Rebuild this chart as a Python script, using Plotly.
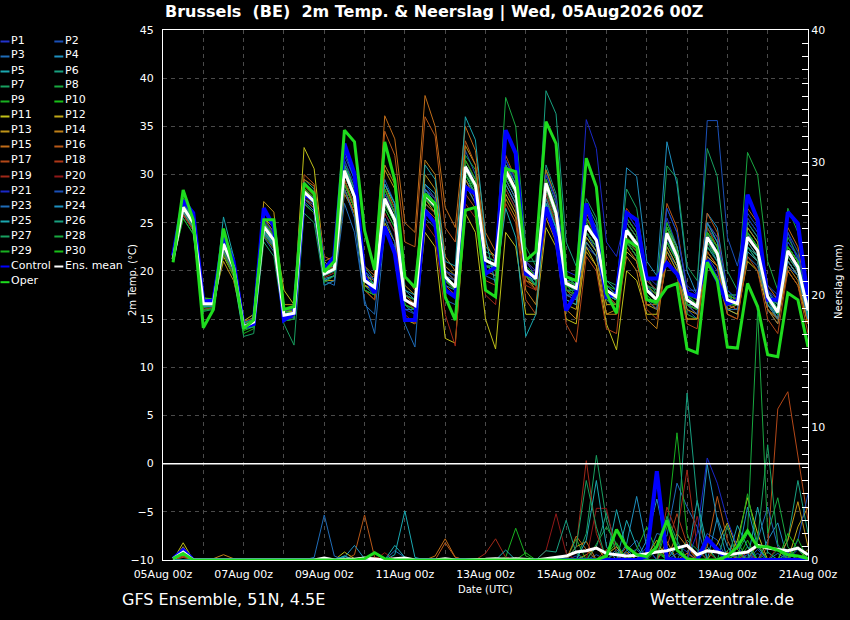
import pandas as pd
import plotly.graph_objects as go

# ---- data: GFS ensemble, Brussels, run 05Aug2026 00Z, 6-hourly from 05Aug 06z
times = pd.date_range("2026-08-05 06:00", periods=64, freq="6h")

member_names = ["P%d" % k for k in range(1, 31)]
member_colors = [
    "#2233cc", "#1a50b8", "#1f6cb8", "#1e90c0", "#1aa8b0", "#18a080", "#18a060", "#18a840", "#18b020", "#18c018",
    "#c0c018", "#c0a818", "#bf9418", "#c08018", "#c06c18", "#b85818", "#b44818", "#b03818", "#a02818", "#901818",
    "#1a28c8", "#1a50b8", "#1f6cb8", "#1e90c0", "#1aa8b0", "#18a080", "#18a060", "#18a840", "#18b020", "#18c018",
]

# 2m temperature (degC)
t_oper = [20.9, 28.4, 25.3, 14.1, 16.0, 24.4, 20.4, 14.0, 14.9, 25.3, 25.3, 16.0, 16.3, 29.1, 28.0, 19.9,
          21.0, 34.6, 33.4, 24.2, 20.1, 33.4, 29.4, 19.4, 18.3, 28.0, 27.0, 17.3, 14.9, 26.3, 26.6, 18.0,
          17.3, 30.6, 30.3, 21.1, 22.0, 35.5, 33.2, 19.4, 19.0, 31.7, 28.7, 17.7, 15.6, 23.2, 22.5, 17.0,
          16.8, 18.3, 18.7, 11.9, 11.5, 20.9, 19.0, 12.1, 12.0, 18.7, 16.3, 11.3, 11.1, 17.7, 17.0, 12.1]
t_control = [21.6, 27.3, 26.0, 16.8, 16.9, 23.4, 21.0, 14.2, 14.5, 26.5, 24.6, 14.9, 15.6, 28.0, 27.3, 20.1,
             21.5, 33.2, 30.1, 19.4, 17.7, 24.6, 21.8, 14.9, 14.9, 26.3, 24.9, 18.0, 17.3, 28.7, 28.0, 19.7,
             20.4, 34.6, 32.2, 19.7, 19.4, 26.6, 23.5, 15.9, 17.7, 27.0, 23.5, 17.3, 17.6, 26.0, 25.3, 19.2,
             19.2, 20.8, 19.7, 17.7, 17.3, 21.1, 19.0, 16.6, 16.9, 27.9, 25.3, 17.0, 17.0, 26.1, 24.9, 17.0]
t_mean = [21.2, 26.6, 25.0, 16.6, 16.6, 22.8, 20.4, 14.2, 14.7, 24.6, 23.2, 15.4, 15.6, 28.2, 27.2, 19.7,
          20.2, 30.4, 27.7, 19.0, 18.3, 27.5, 25.3, 17.0, 16.4, 27.9, 26.8, 19.4, 18.3, 30.8, 28.9, 21.1,
          20.6, 30.4, 28.4, 20.1, 19.2, 29.1, 26.0, 18.7, 18.2, 24.7, 23.2, 18.0, 17.3, 24.2, 22.8, 18.0,
          17.0, 23.9, 21.5, 17.0, 16.3, 23.5, 21.8, 17.0, 16.6, 23.5, 22.1, 17.3, 15.7, 22.1, 20.4, 15.9]

t_p01 = [21.3, 27.5, 26.0, 17.0, 16.8, 23.5, 21.0, 14.5, 14.8, 25.0, 23.5, 15.0, 15.2, 29.0, 28.0, 20.5,
         21.0, 32.0, 29.5, 20.0, 19.0, 26.0, 24.0, 16.0, 15.5, 26.5, 25.0, 18.5, 17.5, 29.5, 27.5, 20.0,
         19.5, 31.5, 29.0, 21.0, 19.5, 27.0, 24.5, 17.5, 17.0, 22.5, 21.5, 17.0, 16.5, 26.0, 24.5, 19.0,
         18.0, 25.5, 22.5, 16.5, 15.5, 21.5, 20.0, 16.0, 15.5, 25.0, 23.5, 18.0, 17.0, 24.0, 21.0, 16.0]
t_p02 = [21.0, 26.0, 25.5, 16.8, 16.5, 22.5, 20.0, 14.0, 14.5, 24.0, 22.5, 15.5, 16.0, 27.5, 26.5, 19.0,
         19.5, 29.0, 26.5, 18.0, 17.5, 29.5, 27.0, 17.5, 17.0, 29.0, 27.5, 20.0, 19.0, 32.5, 30.0, 22.0,
         21.5, 29.0, 27.0, 19.5, 18.5, 30.5, 27.5, 19.0, 19.0, 26.5, 24.5, 19.0, 18.0, 22.0, 21.0, 17.0,
         16.5, 22.0, 20.5, 16.0, 15.0, 24.5, 23.0, 17.5, 17.5, 22.0, 21.0, 16.5, 15.0, 20.5, 19.5, 15.0]
t_p03 = [21.4, 27.0, 25.2, 16.4, 16.4, 23.0, 20.8, 14.6, 15.0, 23.5, 22.0, 15.2, 15.8, 27.0, 26.0, 19.0,
         18.5, 27.0, 24.0, 17.0, 13.5, 24.0, 22.5, 16.0, 16.0, 28.5, 27.0, 19.5, 19.0, 31.0, 29.5, 21.5,
         20.0, 28.5, 26.5, 19.5, 19.0, 30.0, 27.0, 19.5, 18.5, 24.0, 22.0, 17.5, 17.0, 23.5, 22.0, 18.5,
         17.5, 24.5, 22.0, 17.5, 16.0, 23.0, 21.0, 16.5, 16.0, 21.5, 20.5, 16.0, 14.5, 21.0, 19.5, 15.5]
t_p04 = [21.1, 26.2, 24.6, 16.2, 16.7, 23.2, 20.6, 14.4, 14.6, 24.2, 22.8, 15.6, 15.4, 28.5, 27.5, 20.0,
         20.5, 31.0, 28.0, 19.5, 18.5, 28.0, 26.0, 17.5, 17.0, 27.0, 26.0, 18.5, 18.0, 29.5, 28.0, 20.5,
         20.0, 30.0, 28.0, 20.5, 19.5, 28.5, 25.5, 18.0, 17.5, 25.5, 24.0, 18.5, 17.5, 25.0, 23.5, 18.5,
         17.5, 22.5, 20.5, 16.5, 16.5, 26.0, 24.5, 18.0, 17.0, 22.5, 21.0, 17.0, 15.0, 23.0, 21.5, 16.5]
t_p05 = [21.0, 25.8, 24.2, 16.0, 16.2, 25.6, 21.5, 14.0, 14.2, 23.8, 22.6, 14.8, 15.0, 27.5, 26.8, 19.2,
         19.5, 30.0, 27.5, 18.5, 17.5, 28.5, 26.0, 16.5, 15.5, 29.0, 28.0, 20.0, 19.0, 30.0, 28.0, 20.5,
         20.5, 31.0, 29.0, 20.0, 18.5, 28.0, 25.0, 18.0, 18.0, 24.0, 22.5, 17.5, 16.5, 23.0, 21.5, 17.5,
         16.5, 23.0, 21.0, 16.5, 16.5, 24.0, 22.0, 17.5, 17.0, 24.5, 23.0, 18.0, 16.0, 22.5, 21.0, 16.5]
t_p06 = [21.3, 26.8, 25.3, 16.9, 16.9, 22.0, 19.8, 14.0, 14.4, 25.5, 24.0, 15.8, 16.2, 29.5, 28.5, 20.5,
         21.0, 33.0, 30.0, 20.5, 19.0, 26.5, 24.5, 16.5, 16.0, 27.5, 26.5, 19.0, 18.5, 31.5, 29.5, 21.5,
         21.0, 29.5, 27.5, 19.5, 19.5, 31.0, 28.0, 19.5, 18.5, 23.5, 22.0, 17.5, 17.0, 24.5, 23.0, 18.5,
         17.0, 25.0, 22.5, 17.5, 16.5, 22.5, 21.0, 16.5, 16.0, 24.0, 22.5, 17.5, 16.0, 21.5, 20.0, 15.5]
t_p07 = [21.0, 25.5, 23.8, 15.8, 16.0, 22.0, 19.5, 13.2, 13.5, 23.0, 21.5, 14.5, 12.3, 26.0, 25.0, 18.5,
         19.0, 28.5, 26.0, 18.0, 17.5, 27.0, 25.0, 17.5, 17.0, 28.0, 27.0, 19.5, 18.5, 30.0, 28.0, 20.5,
         20.5, 31.5, 29.5, 20.5, 19.5, 28.5, 25.5, 18.5, 18.5, 27.5, 25.5, 19.0, 18.5, 28.5, 26.5, 19.5,
         17.5, 24.0, 21.5, 16.5, 16.0, 23.0, 21.5, 16.5, 16.5, 22.5, 21.0, 16.5, 15.5, 21.0, 19.5, 15.0]
t_p08 = [21.1, 26.4, 24.8, 16.5, 16.6, 23.0, 20.6, 14.3, 14.8, 24.8, 23.4, 15.6, 15.8, 28.0, 27.0, 19.5,
         20.0, 30.5, 28.0, 19.5, 18.5, 28.5, 26.5, 17.5, 16.5, 28.5, 27.5, 20.0, 19.5, 32.0, 30.5, 22.0,
         21.5, 38.0, 35.0, 22.5, 20.5, 30.5, 27.5, 19.5, 18.5, 25.5, 23.5, 18.0, 17.0, 24.5, 23.0, 18.0,
         17.0, 22.0, 20.0, 15.5, 15.0, 22.5, 21.5, 17.0, 17.0, 25.5, 24.0, 18.0, 16.5, 23.5, 21.5, 16.5]
t_p09 = [21.2, 27.2, 25.5, 16.8, 16.8, 22.3, 19.8, 13.8, 14.2, 24.0, 22.6, 15.0, 15.5, 28.8, 27.8, 20.0,
         20.5, 29.5, 27.0, 18.5, 18.0, 27.0, 25.0, 17.0, 16.5, 28.0, 27.0, 19.5, 18.5, 30.5, 28.5, 21.0,
         20.5, 29.0, 27.0, 19.5, 18.5, 29.5, 26.5, 19.0, 18.5, 25.0, 23.5, 18.5, 17.5, 23.5, 22.5, 18.0,
         17.0, 25.0, 22.5, 17.5, 17.0, 24.5, 22.5, 17.5, 17.0, 24.0, 22.5, 17.5, 16.0, 22.0, 20.0, 15.5]
t_p10 = [20.9, 26.0, 24.5, 16.2, 16.3, 22.5, 20.2, 14.0, 14.5, 24.5, 23.0, 15.3, 15.6, 28.0, 27.0, 19.8,
         20.0, 31.5, 28.5, 19.5, 18.5, 26.5, 24.5, 16.5, 16.0, 27.0, 26.0, 19.0, 18.0, 30.0, 28.5, 21.0,
         20.5, 30.5, 28.5, 20.5, 19.5, 27.5, 25.0, 18.5, 17.5, 24.0, 22.5, 17.5, 17.0, 23.0, 22.0, 17.5,
         16.5, 23.0, 21.0, 16.5, 16.0, 25.0, 23.0, 17.5, 16.5, 22.0, 21.0, 16.5, 15.0, 21.5, 20.0, 15.5]
t_p11 = [21.5, 27.0, 25.5, 17.2, 17.0, 23.0, 20.8, 14.8, 15.5, 25.5, 24.5, 18.0, 16.5, 32.8, 30.6, 21.0,
         20.0, 29.5, 26.5, 18.0, 17.0, 25.0, 23.0, 15.0, 14.5, 24.0, 22.5, 13.0, 12.5, 26.0, 24.0, 15.0,
         11.9, 24.0, 22.5, 15.5, 15.5, 24.5, 22.5, 15.0, 14.5, 22.5, 20.5, 14.5, 11.8, 20.0, 19.0, 15.5,
         15.5, 21.0, 19.5, 15.0, 15.0, 22.0, 20.5, 16.0, 15.5, 21.0, 20.0, 16.0, 15.0, 20.0, 18.5, 14.5]
t_p12 = [21.2, 26.5, 25.2, 16.8, 16.8, 21.5, 19.5, 14.0, 14.8, 25.0, 23.6, 15.8, 15.8, 29.0, 28.2, 20.4,
         20.5, 29.0, 26.5, 18.5, 18.0, 29.0, 26.5, 17.5, 16.5, 27.5, 26.0, 19.0, 18.0, 29.0, 27.0, 20.5,
         20.0, 28.0, 26.0, 19.0, 18.5, 26.0, 23.5, 16.5, 16.0, 23.5, 22.0, 16.5, 16.5, 22.0, 21.0, 16.5,
         16.0, 24.5, 22.0, 16.5, 16.0, 21.5, 20.5, 16.0, 16.5, 23.0, 21.5, 16.5, 15.0, 21.0, 19.5, 15.0]
t_p13 = [21.3, 26.9, 25.6, 17.0, 16.9, 21.0, 19.0, 14.6, 15.2, 27.2, 26.1, 16.5, 16.5, 27.0, 26.0, 19.0,
         19.0, 28.0, 26.0, 18.5, 18.0, 30.5, 28.5, 18.5, 17.5, 30.0, 28.5, 20.5, 19.5, 33.0, 31.0, 22.5,
         21.5, 29.5, 27.5, 19.5, 18.0, 27.5, 24.5, 17.0, 16.5, 22.0, 20.5, 15.5, 16.0, 24.0, 22.5, 17.0,
         16.0, 22.5, 20.5, 16.0, 15.5, 24.0, 22.5, 16.5, 16.0, 24.5, 23.0, 17.0, 15.5, 22.5, 21.0, 16.0]
t_p14 = [21.0, 25.8, 24.4, 16.4, 16.4, 22.0, 20.0, 14.2, 15.0, 26.0, 25.0, 16.0, 16.0, 28.5, 27.5, 20.0,
         20.5, 28.5, 26.0, 19.5, 19.0, 31.0, 29.0, 19.5, 18.0, 31.5, 30.0, 21.5, 20.0, 29.5, 27.5, 20.0,
         19.5, 27.5, 25.5, 18.0, 16.5, 25.5, 23.0, 16.0, 15.0, 23.0, 21.5, 15.5, 15.5, 21.5, 20.0, 15.0,
         14.0, 22.0, 20.0, 15.0, 15.0, 20.5, 19.5, 15.5, 15.0, 22.0, 21.0, 16.0, 14.5, 20.5, 19.0, 14.5]
t_p15 = [21.4, 27.3, 25.8, 17.1, 17.0, 23.5, 21.2, 14.8, 15.0, 25.5, 24.0, 15.8, 16.0, 29.5, 28.8, 21.0,
         21.5, 30.5, 28.0, 20.5, 19.5, 36.1, 33.7, 25.0, 24.0, 38.2, 35.0, 26.6, 24.5, 35.0, 32.5, 24.0,
         22.0, 31.0, 28.5, 20.0, 19.0, 30.5, 27.5, 19.0, 18.0, 24.0, 22.5, 17.5, 16.5, 22.5, 21.0, 16.5,
         16.5, 24.5, 22.5, 17.0, 16.5, 25.0, 23.5, 17.5, 17.0, 26.5, 25.0, 18.5, 17.0, 24.5, 22.5, 16.5]
t_p16 = [21.2, 26.3, 24.9, 16.5, 16.5, 23.3, 21.0, 14.8, 15.0, 24.0, 22.6, 15.2, 15.5, 30.0, 29.0, 21.5,
         21.0, 28.5, 26.0, 19.0, 19.5, 34.5, 32.0, 23.0, 22.5, 36.0, 34.0, 24.5, 23.0, 33.5, 31.0, 23.0,
         21.0, 32.0, 29.5, 21.0, 20.0, 28.5, 25.5, 18.0, 17.0, 26.0, 24.0, 18.0, 17.0, 25.0, 23.5, 18.5,
         17.5, 27.0, 24.5, 18.0, 17.0, 26.0, 24.0, 17.5, 17.0, 24.0, 22.0, 16.0, 15.0, 21.0, 19.5, 14.5]
t_p17 = [21.1, 26.0, 24.6, 16.3, 16.4, 22.6, 20.4, 14.3, 14.6, 24.8, 23.5, 15.6, 15.5, 27.5, 26.5, 19.5,
         20.0, 30.0, 27.5, 19.0, 18.0, 28.0, 26.0, 17.5, 16.5, 26.5, 25.5, 18.5, 17.5, 28.0, 26.5, 19.0,
         18.5, 27.0, 25.0, 17.0, 15.5, 26.0, 23.5, 14.5, 12.6, 21.5, 20.0, 14.0, 13.5, 23.0, 21.5, 16.0,
         15.0, 21.5, 19.5, 14.5, 14.0, 22.0, 20.5, 15.5, 15.0, 21.5, 20.0, 15.0, 13.5, 20.0, 18.5, 13.5]
t_p18 = [21.3, 26.2, 24.7, 16.6, 16.6, 21.8, 19.6, 14.4, 14.6, 23.6, 22.3, 15.2, 15.5, 28.5, 27.5, 20.0,
         20.5, 31.0, 28.5, 19.5, 18.5, 27.0, 25.0, 17.0, 16.0, 27.0, 26.0, 19.0, 18.0, 31.0, 29.0, 21.0,
         20.5, 29.0, 27.0, 19.0, 18.0, 28.5, 25.5, 18.0, 17.5, 24.0, 22.5, 17.5, 17.0, 26.5, 25.0, 19.0,
         18.0, 23.0, 21.0, 16.5, 16.0, 24.5, 22.5, 17.0, 16.5, 23.5, 22.0, 17.0, 15.5, 22.0, 20.0, 15.5]
t_p19 = [21.0, 25.8, 24.2, 16.0, 16.2, 22.4, 20.0, 14.0, 14.4, 24.4, 23.0, 15.2, 15.3, 27.8, 26.8, 19.3,
         19.8, 29.5, 26.8, 18.0, 17.0, 26.0, 24.0, 15.5, 14.5, 25.0, 23.5, 15.5, 12.2, 27.0, 25.5, 17.5,
         16.5, 28.5, 26.5, 18.5, 18.0, 28.0, 25.0, 17.5, 17.0, 25.5, 23.5, 17.5, 16.5, 23.5, 22.0, 17.0,
         16.0, 24.5, 22.0, 16.5, 15.5, 23.0, 21.5, 16.5, 16.0, 23.5, 22.0, 17.0, 15.5, 21.5, 20.0, 15.5]
t_p20 = [21.2, 26.7, 25.1, 16.7, 16.7, 23.4, 21.0, 14.5, 14.9, 25.2, 23.8, 15.8, 16.0, 28.8, 27.8, 20.2,
         20.5, 30.0, 27.5, 19.0, 18.5, 28.5, 26.5, 17.5, 17.0, 28.5, 27.5, 20.0, 19.0, 31.5, 29.5, 21.5,
         21.0, 30.0, 28.0, 20.0, 19.5, 29.5, 26.5, 19.0, 18.5, 24.5, 23.0, 18.0, 17.5, 25.5, 24.0, 18.5,
         17.5, 24.0, 21.5, 17.0, 16.5, 23.0, 21.5, 17.0, 17.0, 23.0, 21.5, 17.0, 16.0, 22.5, 20.5, 16.0]
t_p21 = [21.4, 27.4, 25.9, 17.1, 17.0, 23.7, 21.3, 14.6, 15.1, 25.3, 23.9, 15.9, 16.0, 29.0, 28.0, 20.4,
         21.0, 31.5, 29.0, 20.0, 19.0, 28.0, 26.0, 17.5, 17.0, 28.5, 27.5, 20.0, 19.5, 31.0, 29.0, 21.5,
         21.0, 31.5, 29.5, 21.0, 20.0, 30.0, 27.5, 20.0, 19.5, 35.7, 32.7, 23.0, 21.5, 26.0, 24.5, 19.5,
         18.5, 26.5, 24.0, 18.5, 17.5, 25.0, 23.5, 18.0, 17.0, 25.5, 24.0, 18.0, 16.5, 23.0, 21.5, 16.5]
t_p22 = [21.1, 26.4, 24.9, 16.5, 16.5, 22.7, 20.3, 14.1, 14.6, 24.6, 23.2, 15.4, 15.6, 28.0, 27.0, 19.6,
         20.0, 30.0, 27.5, 19.0, 18.0, 27.5, 25.5, 17.0, 16.5, 28.0, 27.0, 19.5, 18.5, 30.5, 28.5, 21.0,
         20.5, 30.0, 28.0, 20.0, 19.0, 29.0, 26.0, 19.0, 18.5, 26.5, 24.5, 18.5, 17.5, 25.5, 24.0, 18.5,
         17.0, 26.5, 24.0, 18.0, 18.0, 35.6, 35.6, 23.5, 20.5, 26.0, 24.5, 18.5, 17.5, 24.0, 22.0, 16.5]
t_p23 = [21.3, 26.9, 25.4, 16.9, 16.8, 22.1, 19.9, 14.2, 14.5, 23.9, 22.5, 15.0, 15.0, 27.0, 26.0, 18.5,
         19.0, 28.5, 25.5, 16.5, 15.5, 25.5, 23.0, 14.5, 12.1, 25.5, 24.5, 17.0, 16.5, 29.0, 27.0, 19.5,
         19.0, 29.5, 27.5, 19.5, 18.5, 27.5, 24.5, 17.5, 17.0, 24.0, 22.5, 17.0, 16.0, 23.0, 21.5, 17.0,
         16.0, 23.5, 21.0, 16.5, 15.5, 23.5, 21.5, 16.0, 16.0, 24.0, 22.0, 16.5, 15.0, 22.0, 20.0, 15.0]
t_p24 = [21.0, 26.1, 24.5, 16.3, 16.3, 23.9, 21.5, 14.6, 14.9, 24.9, 23.5, 15.5, 15.7, 27.2, 26.2, 19.0,
         19.5, 31.0, 28.5, 19.5, 18.0, 29.0, 27.0, 18.0, 17.0, 28.5, 27.0, 19.0, 18.5, 30.0, 28.0, 20.5,
         20.0, 29.0, 27.0, 19.5, 18.5, 27.0, 24.5, 17.5, 17.5, 23.0, 21.5, 17.5, 17.0, 30.7, 29.8, 21.0,
         19.5, 33.4, 29.0, 20.0, 17.5, 25.0, 23.0, 17.5, 16.5, 22.0, 21.0, 16.5, 15.5, 21.0, 19.5, 15.0]
t_p25 = [21.2, 26.6, 25.0, 16.6, 16.6, 23.3, 20.9, 14.2, 14.4, 24.1, 22.7, 15.1, 15.4, 29.2, 28.2, 20.4,
         20.5, 32.5, 29.5, 20.0, 18.5, 29.0, 27.0, 18.0, 17.5, 31.0, 29.5, 21.0, 20.5, 36.0, 33.6, 23.5,
         18.5, 26.5, 23.5, 13.2, 15.5, 27.0, 24.5, 17.0, 16.5, 24.5, 23.0, 17.5, 17.0, 24.5, 23.0, 18.0,
         17.0, 24.5, 22.5, 17.0, 16.5, 23.0, 21.5, 16.5, 16.5, 23.0, 21.5, 17.0, 15.5, 22.0, 20.5, 15.5]
t_p26 = [21.3, 27.1, 25.4, 16.9, 16.9, 22.9, 20.5, 14.0, 14.2, 24.2, 22.9, 15.3, 15.5, 28.0, 27.0, 19.5,
         20.0, 31.0, 28.5, 19.5, 18.0, 27.0, 25.0, 17.0, 16.5, 28.0, 27.0, 19.5, 18.5, 31.0, 29.0, 21.0,
         20.5, 31.0, 29.0, 21.0, 21.0, 38.7, 36.3, 23.0, 20.5, 27.0, 25.0, 19.0, 18.0, 24.0, 22.5, 18.0,
         17.0, 23.0, 21.0, 16.5, 16.0, 22.5, 21.0, 16.5, 16.5, 22.5, 21.5, 17.0, 15.5, 21.5, 20.0, 15.5]
t_p27 = [21.1, 26.3, 24.7, 16.4, 16.4, 22.4, 20.1, 14.1, 14.7, 24.7, 23.3, 15.5, 15.6, 28.3, 27.3, 19.8,
         20.3, 30.0, 27.5, 19.0, 18.0, 27.5, 25.5, 17.0, 16.5, 27.5, 26.5, 19.0, 18.0, 30.5, 28.5, 20.5,
         20.0, 30.0, 28.0, 20.0, 19.0, 29.0, 26.0, 18.5, 18.0, 24.5, 23.0, 18.0, 17.5, 25.0, 23.5, 18.5,
         18.0, 30.9, 29.6, 20.5, 19.0, 32.7, 29.8, 20.0, 18.0, 25.0, 23.5, 17.5, 16.5, 22.5, 21.0, 16.0]
t_p28 = [21.2, 26.8, 25.2, 16.7, 16.7, 22.6, 20.2, 14.3, 14.8, 24.5, 23.1, 15.4, 15.7, 28.4, 27.4, 19.9,
         20.3, 30.5, 28.0, 19.0, 18.5, 27.5, 25.5, 17.0, 16.5, 28.0, 27.0, 19.5, 18.5, 30.5, 28.5, 21.0,
         20.5, 30.5, 28.5, 20.0, 19.0, 28.5, 25.5, 18.5, 18.0, 25.0, 23.5, 18.0, 17.5, 24.5, 23.0, 18.0,
         17.0, 24.0, 22.0, 17.0, 16.5, 24.0, 22.5, 17.5, 17.5, 32.3, 30.0, 21.0, 18.0, 26.5, 24.0, 17.0]
t_p29 = [21.0, 25.4, 23.9, 15.9, 16.1, 21.8, 19.4, 13.5, 14.0, 23.7, 22.4, 14.8, 15.0, 27.0, 26.0, 18.8,
         19.5, 29.0, 26.5, 18.0, 17.5, 27.0, 25.0, 16.5, 16.0, 27.5, 26.5, 19.0, 18.0, 30.0, 28.0, 20.5,
         20.0, 30.0, 28.0, 19.5, 18.5, 29.0, 26.0, 18.0, 17.5, 24.0, 22.5, 17.0, 16.5, 23.0, 21.5, 17.0,
         16.5, 23.0, 21.0, 16.5, 16.0, 23.0, 21.5, 16.5, 16.5, 23.5, 22.0, 17.0, 15.5, 22.5, 21.0, 16.0]
t_p30 = [21.4, 27.6, 26.0, 17.2, 17.1, 23.6, 21.1, 14.5, 15.0, 25.1, 23.7, 15.7, 16.0, 28.6, 27.6, 20.2,
         20.8, 30.5, 28.0, 19.5, 18.5, 28.5, 26.0, 17.5, 17.0, 28.0, 27.0, 19.5, 18.5, 31.5, 29.5, 21.5,
         21.0, 30.5, 28.5, 20.5, 19.5, 29.5, 26.5, 19.0, 18.5, 25.5, 24.0, 18.5, 18.0, 25.5, 24.0, 18.5,
         17.5, 24.5, 22.0, 17.5, 16.5, 24.0, 22.5, 17.5, 17.0, 24.0, 22.5, 17.5, 16.0, 22.5, 21.0, 16.0]

# 6-hourly precipitation (mm)
pr_oper = [0.1, 0.5, 0, 0, 0, 0, 0, 0, 0, 0, 0, 0, 0, 0, 0, 0,
           0, 0, 0, 0.1, 0.55, 0.1, 0, 0, 0, 0, 0, 0, 0, 0, 0, 0,
           0, 0, 0, 0, 0, 0, 0, 0, 0, 0, 0, 0.3, 2.3, 1.0, 0.4, 0.25,
           1.0, 3.0, 0.75, 0.1, 0, 0, 0, 0.3, 1.0, 2.2, 1.0, 1.0, 0.75, 0.4, 0.3, 0.1]
pr_control = [0.1, 0.75, 0, 0, 0, 0, 0, 0, 0, 0, 0, 0, 0, 0, 0, 0,
              0, 0, 0, 0, 0, 0, 0, 0, 0, 0, 0, 0, 0, 0, 0, 0,
              0, 0, 0, 0, 0, 0, 0, 0, 0, 0, 0, 0, 0, 0, 0, 0.3,
              6.7, 0.1, 0, 0, 0, 1.6, 0.75, 0, 0, 0, 0, 0, 0, 0, 0, 0]
pr_mean = [0.1, 0.6, 0, 0, 0, 0.02, 0, 0, 0, 0, 0, 0, 0, 0, 0, 0.15,
           0, 0.05, 0.05, 0.15, 0.05, 0, 0.1, 0.15, 0, 0, 0, 0.1, 0, 0, 0, 0.05,
           0.1, 0.05, 0.1, 0.05, 0, 0.1, 0.2, 0.3, 0.6, 0.7, 0.9, 0.5, 0.4, 0.3, 0.35, 0.5,
           0.6, 0.7, 0.9, 1.1, 0.4, 0.7, 0.6, 0.4, 0.5, 0.6, 1.1, 0.9, 0.8, 0.7, 0.9, 0.4]

pr_p01 = [0.1, 0.8, 0, 0, 0, 0, 0, 0, 0, 0, 0, 0, 0, 0, 0, 0,
          0, 0, 0, 0, 0, 0, 0, 0, 0, 0, 0, 0, 0, 0, 0, 0,
          0, 0, 0, 0, 0, 0, 0, 0, 0.3, 0, 0, 0, 0, 0.5, 0.8, 0,
          0, 0, 1.2, 0.6, 0, 0, 0, 0, 0, 0.4, 0, 0, 0, 0.6, 0, 0]
pr_p02 = [0.1, 0.6, 0, 0, 0, 0, 0, 0, 0, 0, 0, 0, 0, 0, 0, 0,
          0, 0, 0, 0, 0, 0, 0, 0, 0, 0, 0, 0, 0, 0, 0, 0,
          0, 0, 0, 0, 0, 0, 0, 0, 0, 0, 0.4, 0, 0, 0, 0, 0,
          0, 1.0, 0, 0, 0, 2.0, 1.5, 0, 0, 0, 0.5, 0, 0, 0, 0.8, 0]
pr_p03 = [0, 0.4, 0, 0, 0, 0, 0, 0, 0, 0, 0, 0, 0, 0, 0, 0,
          0, 0, 0, 0, 0, 0, 0.7, 0.2, 0, 0, 0, 0, 0, 0, 0, 0,
          0, 0, 0, 0, 0, 0, 0, 0, 0, 0, 0, 0, 0.8, 0, 0, 0,
          2.0, 1.8, 5.8, 4.0, 2.5, 0, 0, 0, 0, 0, 0, 0, 0.5, 0, 0, 0]
pr_p04 = [0, 0.3, 0, 0, 0, 0, 0, 0, 0, 0, 0, 0, 0, 0, 0, 0,
          0, 0.3, 0, 0, 0, 0, 0, 0, 0, 0, 0, 0, 0, 0, 0, 0,
          0, 0, 0, 0, 0, 0, 0, 0, 0, 0, 0, 0, 0, 1.2, 4.8, 1.0,
          0, 0, 0, 0, 0, 0, 3.2, 1.0, 0, 0, 0, 1.5, 2.8, 0, 0, 0]
pr_p05 = [0, 0.4, 0, 0, 0, 0, 0, 0, 0, 0, 0, 0, 0, 0, 0, 0,
          0, 0, 0, 0, 0, 0, 0.4, 3.7, 0.2, 0, 0, 0, 0, 0, 0, 0,
          0, 0, 0, 0, 0, 0, 0, 0, 0, 0, 0, 0, 3.8, 0.8, 0, 0,
          0, 0, 0, 0, 4.5, 1.0, 0, 0, 0, 0, 4.0, 0.6, 0, 0, 0, 0]
pr_p06 = [0, 0.5, 0, 0, 0, 0, 0, 0, 0, 0, 0, 0, 0, 0, 0, 0,
          0, 0, 0, 0, 0, 0, 0, 0, 0, 0, 0, 0, 0, 0, 0, 0,
          0, 0, 0, 0, 0, 0, 0, 0, 0, 0, 1.0, 3.5, 1.0, 0, 0, 0,
          0, 0, 0, 0, 0, 0, 0, 0, 0.5, 0, 0, 0, 0, 1.5, 6.0, 2.0]
pr_p07 = [0, 0.7, 0, 0, 0, 0, 0, 0, 0, 0, 0, 0, 0, 0, 0, 0,
          0, 0, 0, 0, 0, 0, 0, 0, 0, 0, 0, 0, 0, 0, 0, 0,
          0, 0, 0, 0, 0, 0, 0, 0, 0, 2.0, 7.9, 3.0, 0.5, 0, 0, 0,
          0, 0, 0, 1.5, 0.8, 0, 0, 0, 0, 0, 0, 0.6, 0, 0, 0, 0]
pr_p08 = [0, 0.6, 0, 0, 0, 0, 0, 0, 0, 0, 0, 0, 0, 0, 0, 0,
          0, 0, 0, 0, 0, 0, 0, 0, 0, 0, 0, 0, 0, 0, 0, 0,
          0, 0, 0, 0, 0, 0, 0, 0, 0, 0, 1.2, 2.5, 1.2, 0, 0, 0,
          0, 0, 0, 0, 0, 0, 0, 0.7, 1.4, 0, 0, 0, 0.8, 0, 0, 0]
pr_p09 = [0, 0.7, 0, 0, 0, 0, 0, 0, 0, 0, 0, 0, 0, 0, 0, 0,
          0, 0, 0, 0, 0, 0, 0, 0, 0, 0, 0, 0, 0, 0, 0, 0,
          0, 0.2, 2.4, 0.3, 0, 0, 0, 0, 1.6, 0, 0, 0, 0, 0, 0, 0,
          0, 2.5, 9.6, 2.0, 0, 0, 0, 0, 0, 1.0, 0, 0, 0, 0, 0, 0]
pr_p10 = [0, 0.5, 0, 0, 0, 0, 0, 0, 0, 0, 0, 0, 0, 0, 0, 0,
          0, 0, 0, 0, 0, 0, 0, 0, 0, 0, 0, 0, 0, 0, 0, 0,
          0, 0, 0, 0.55, 0, 0, 0, 0, 0, 0, 0, 0, 0, 0, 0, 0.5,
          1.0, 0, 0, 0, 0, 0.8, 0, 0, 0.6, 0, 0, 0, 0, 0, 1.0, 0]
pr_p11 = [0, 1.3, 0, 0, 0, 0, 0, 0, 0, 0, 0, 0, 0, 0, 0, 0,
          0, 0.6, 0.1, 0, 0, 0, 0, 0, 0, 0, 0, 0, 0, 0, 0, 0,
          0, 0, 0, 0, 0, 0, 0, 0, 0, 0, 0, 0.4, 1.0, 0, 0, 0,
          0, 0, 0, 0, 0, 0, 0, 0, 1.5, 4.7, 2.0, 0, 0, 0, 0, 0.8]
pr_p12 = [0, 1.0, 0, 0, 0, 0, 0, 0, 0, 0, 0, 0, 0, 0, 0, 0,
          0, 0, 0, 0, 0, 0, 0, 0, 0, 0, 0, 0, 0, 0, 0, 0,
          0, 0, 0, 0, 0, 0, 0, 0, 0, 0, 0, 0, 0, 0, 0, 0.3,
          1.5, 0, 0, 0, 0, 0, 1.2, 2.8, 0.8, 0, 0, 0, 0, 0, 2.5, 4.0]
pr_p13 = [0, 0.9, 0, 0, 0, 0, 0, 0, 0, 0, 0, 0, 0, 0, 0, 0,
          0, 0, 0, 0, 0, 0, 0, 0, 0, 0, 0, 0, 0, 0, 0, 0,
          0, 0, 0, 0, 0, 0, 0, 0, 0, 0.4, 1.0, 0, 0, 0.6, 0, 0,
          0, 1.4, 0, 0, 0, 0, 0, 0, 0, 0, 0, 0, 0, 1.5, 4.4, 1.0]
pr_p14 = [0, 0, 0, 0, 0.1, 0.4, 0.1, 0, 0, 0, 0, 0, 0, 0, 0, 0,
          0, 0, 0, 0, 0, 0, 0, 0, 0, 0, 0, 0, 0, 0, 0, 0,
          0, 0, 0, 0, 0, 0, 0, 0, 1.0, 1.4, 0, 0, 0, 0, 0, 0,
          0, 0, 2.0, 1.0, 0, 0, 0, 0.6, 0, 0, 0, 0, 0, 0, 0, 0]
pr_p15 = [0, 0.3, 0, 0, 0, 0, 0, 0, 0, 0, 0, 0, 0, 0, 0, 0,
          0, 0, 0, 0, 0, 0, 0, 0, 0, 0, 0.3, 1.6, 0.2, 0, 0, 0,
          0, 0, 0, 0, 0, 0, 0, 0, 1.8, 0.8, 0, 0, 0, 0, 0, 0,
          0, 0, 0, 0.5, 0, 0, 0, 0, 0, 0, 1.2, 0, 0, 0, 0, 0]
pr_p16 = [0, 0, 0, 0, 0, 0, 0, 0, 0, 0, 0, 0, 0, 0, 0, 0,
          0, 0, 0.4, 3.4, 0.2, 0, 0, 0, 0, 0, 0, 1.3, 0.2, 0, 0, 0,
          0, 0, 0, 0, 0, 0, 0, 0, 0, 0, 0, 0, 0, 0, 0, 0,
          0, 0, 0, 0, 0, 1.0, 4.8, 1.5, 0, 0, 0, 0, 0, 0, 0, 0]
pr_p17 = [0, 0.2, 0, 0, 0, 0, 0, 0, 0, 0, 0, 0, 0, 0, 0, 0,
          0, 0, 0, 0, 0, 0, 0, 0, 0, 0, 0, 0, 0, 0, 0, 0,
          0, 0, 0, 0, 0, 0, 0, 0, 0, 0, 0, 0, 0, 1.0, 0.5, 0,
          0, 0, 0, 0, 0, 0, 0, 0, 0, 0, 0, 1.0, 11.4, 12.7, 8.0, 3.0]
pr_p18 = [0, 0.3, 0, 0, 0, 0, 0, 0, 0, 0, 0, 0, 0, 0, 0, 0,
          0, 0, 0, 0, 0, 0, 0, 0, 0, 0, 0, 0, 0, 0, 0, 0,
          0, 0, 0, 0, 0, 0, 0, 0, 0, 0, 0, 0.8, 0, 0, 0, 0,
          0, 1.0, 3.5, 1.2, 0, 0, 0, 0, 0, 0.6, 0, 0, 0, 0, 0, 0]
pr_p19 = [0, 0, 0, 0, 0, 0, 0, 0, 0, 0, 0, 0, 0, 0, 0, 0,
          0, 0, 0, 0, 0.2, 0, 0, 0, 0, 0, 0, 0, 0, 0, 0, 0.5,
          1.6, 0.2, 0, 0, 0, 0, 0, 0, 1.0, 7.5, 2.0, 0, 0, 0, 0, 0,
          0, 4.0, 2.0, 6.8, 1.0, 0, 0, 0, 0, 0, 0, 0, 0, 0, 0, 0]
pr_p20 = [0, 0, 0, 0, 0, 0, 0, 0, 0, 0, 0, 0, 0, 0, 0, 0,
          0, 0, 0, 0, 0, 0.55, 0, 0, 0, 0, 0, 0, 0, 0, 0, 0,
          0, 0, 0, 0, 0, 0.7, 3.5, 0.5, 0, 0, 3.9, 3.9, 0.5, 0, 0, 0,
          0, 0, 0, 0, 3.3, 0.6, 0, 0, 0, 0, 0, 0, 1.0, 0, 0, 0]
pr_p21 = [0, 0.9, 0, 0, 0, 0, 0, 0, 0, 0, 0, 0, 0, 0, 0, 0,
          0, 0, 0, 0, 0, 0, 0, 0, 0, 0, 0, 0, 0, 0, 0, 0,
          0, 0, 0, 0, 0, 0, 0, 0, 0, 0, 0, 0, 0.6, 0, 0, 1.0,
          0, 0, 0, 0, 2.0, 7.7, 5.8, 3.0, 1.0, 0, 0, 0, 0, 0, 0, 0]
pr_p22 = [0, 0.5, 0, 0, 0, 0, 0, 0, 0, 0, 0, 0, 0, 0, 0, 0,
          0, 0, 0, 0, 0, 0, 0, 0, 0, 0, 0, 0, 0, 0, 0, 0,
          0, 0, 0, 0, 0, 0, 0, 0, 0, 0, 0, 0, 0, 0, 0.8, 0,
          0, 0, 0.5, 0, 0, 0, 0, 0, 0, 0, 0.8, 0, 0, 0, 1.5, 5.0]
pr_p23 = [0, 0, 0, 0, 0, 0, 0, 0, 0, 0, 0, 0, 0, 0, 0.2, 3.4,
          0.3, 0, 0, 0, 0, 0, 0, 0, 0, 0, 0, 0, 0, 0, 0, 0,
          0, 0, 0, 0, 0, 0, 0, 0, 0, 0, 0, 0, 0, 0.7, 1.5, 0,
          0, 0, 0, 0, 0, 0, 0, 0, 0, 0, 1.5, 4.0, 1.0, 0, 0, 0]
pr_p24 = [0, 0, 0, 0, 0, 0, 0, 0, 0, 0, 0, 0, 0, 0, 0, 0,
          0, 0.2, 1.1, 0.1, 0, 0, 0, 0, 0, 0, 0, 0, 0, 0, 0, 0,
          0, 0, 0, 0, 0, 0, 0, 0, 0, 0, 0, 0, 0, 0, 0, 1.5,
          4.6, 1.0, 0, 0, 0, 7.2, 3.0, 0, 0, 4.0, 1.0, 0, 0, 0, 0, 0]
pr_p25 = [0, 0, 0, 0, 0, 0, 0, 0, 0, 0, 0, 0, 0, 0, 0, 0,
          0, 0.3, 0, 0, 0, 0, 1.1, 0.2, 0, 0, 0, 0, 0, 0, 0, 0,
          0, 0.75, 0, 0, 0, 0, 0, 0, 0, 1.5, 6.0, 1.0, 0, 3.0, 1.0, 0,
          0, 0, 0, 0, 0, 0, 0, 0, 2.6, 1.0, 0, 0, 0, 0, 0, 0]
pr_p26 = [0, 0, 0, 0, 0, 0, 0, 0, 0, 0, 0, 0, 0, 0, 0, 0,
          0, 0, 0, 0, 0, 0, 0, 0, 0, 0, 0, 0, 0, 0, 0, 0,
          0, 0, 0, 0, 0, 0.7, 0.6, 3.0, 0.5, 0, 0, 0, 0, 0, 0, 0,
          0, 0, 1.0, 12.6, 4.5, 0, 0, 0, 0, 0, 0, 0, 0, 0.5, 0, 0]
pr_p27 = [0, 0.4, 0, 0, 0, 0, 0, 0, 0, 0, 0, 0, 0, 0, 0, 0,
          0, 0, 0, 0, 0, 0, 0, 0, 0, 0, 0, 0, 0, 0, 0, 0,
          0, 0, 0, 0, 0, 0, 0, 0, 1.0, 6.0, 2.5, 0, 0, 0, 0, 0,
          0, 3.3, 1.5, 0, 0, 0, 0, 2.6, 0, 0, 1.5, 8.7, 1.2, 0, 0, 0]
pr_p28 = [0, 0.5, 0, 0, 0, 0, 0, 0, 0, 0, 0, 0, 0, 0, 0, 0,
          0, 0, 0, 0, 0, 0, 0, 0, 0, 0, 0, 0, 0, 0, 0, 0,
          0, 0, 0, 0, 0, 0, 0, 0, 0, 0, 0, 0, 0.6, 0.3, 0, 0,
          0, 0, 0, 0, 0, 0, 0, 0, 0.5, 2.0, 18.8, 2.0, 4.7, 1.0, 0, 0]
pr_p29 = [0, 0.5, 0, 0, 0, 0, 0, 0, 0, 0, 0, 0, 0, 0, 0, 0,
          0, 0, 0, 0, 0, 0, 0, 0, 0, 0, 0, 0, 0, 0, 0, 0,
          0, 0, 0, 0, 0, 0, 0, 0, 0, 0, 0, 0, 0, 0, 0.8, 2.5,
          0.6, 0, 0, 0, 0, 0, 0, 0, 1.0, 5.0, 1.2, 0, 0, 0, 1.6, 0]
pr_p30 = [0, 0.6, 0, 0, 0, 0, 0, 0, 0, 0, 0, 0, 0, 0, 0, 0,
          0, 0, 0, 0, 0, 0, 0, 0, 0, 0, 0, 0, 0, 0, 0, 0,
          0, 0, 0, 0, 0, 0, 0, 0, 0, 0, 0, 0.4, 1.3, 0, 0, 0,
          0.8, 0, 0, 0, 0, 0, 0, 0, 0, 1.5, 0, 0, 0, 2.0, 0.8, 0]

members_t = [t_p01, t_p02, t_p03, t_p04, t_p05, t_p06, t_p07, t_p08, t_p09, t_p10,
             t_p11, t_p12, t_p13, t_p14, t_p15, t_p16, t_p17, t_p18, t_p19, t_p20,
             t_p21, t_p22, t_p23, t_p24, t_p25, t_p26, t_p27, t_p28, t_p29, t_p30]
members_pr = [pr_p01, pr_p02, pr_p03, pr_p04, pr_p05, pr_p06, pr_p07, pr_p08, pr_p09, pr_p10,
              pr_p11, pr_p12, pr_p13, pr_p14, pr_p15, pr_p16, pr_p17, pr_p18, pr_p19, pr_p20,
              pr_p21, pr_p22, pr_p23, pr_p24, pr_p25, pr_p26, pr_p27, pr_p28, pr_p29, pr_p30]

for s in members_t + members_pr + [t_oper, t_control, t_mean, pr_oper, pr_control, pr_mean]:
    assert len(s) == 64, len(s)

x_ticks = pd.date_range("2026-08-05", "2026-08-21", freq="2D")
x_ticktext = [d.strftime("%d%b 00z") for d in x_ticks]

OPER = "#1edc1e"
CONTROL = "#0000ff"
MEAN = "#ffffff"
GRID = "#4a4a4a"

# plot area in pixels, used to place texts in the margins
L, R, T, B = 163, 810, 30, 560


def px(x):
    return (x - L) / (R - L)


def py(y):
    return (B - y) / (B - T)


fig = go.Figure()

# members: temperature and precipitation
for name, col, tt, pp in zip(member_names, member_colors, members_t, members_pr):
    fig.add_trace(go.Scatter(x=times, y=tt, mode="lines", name=name, line=dict(color=col, width=1),
                             hoverinfo="skip"))
    fig.add_trace(go.Scatter(x=times, y=pp, mode="lines", name=name, yaxis="y2",
                             line=dict(color=col, width=1), hoverinfo="skip"))

fig.add_trace(go.Scatter(x=times, y=pr_control, mode="lines", yaxis="y2", line=dict(color=CONTROL, width=4)))
fig.add_trace(go.Scatter(x=times, y=pr_mean, mode="lines", yaxis="y2", line=dict(color=MEAN, width=3)))
fig.add_trace(go.Scatter(x=times, y=pr_oper, mode="lines", yaxis="y2", line=dict(color=OPER, width=3)))
fig.add_trace(go.Scatter(x=times, y=t_control, mode="lines", name="Control", line=dict(color=CONTROL, width=4)))
fig.add_trace(go.Scatter(x=times, y=t_mean, mode="lines", name="Ens. mean", line=dict(color=MEAN, width=3)))
fig.add_trace(go.Scatter(x=times, y=t_oper, mode="lines", name="Oper", line=dict(color=OPER, width=3)))

# white freezing line
fig.add_shape(type="line", xref="paper", x0=0, x1=1, yref="y", y0=0, y1=0,
              line=dict(color="white", width=1.5))

# hand-made two column legend on the left
legend_entries = [(n, c) for n, c in zip(member_names, member_colors)]
legend_entries += [("Control", CONTROL), ("Ens. mean", MEAN), ("Oper", OPER)]
for k, (name, col) in enumerate(legend_entries):
    row, colno = divmod(k, 2)
    yrow = 40 + 15 * row + (0.7 if row == 16 else 0)
    x0 = 0 if colno == 0 else 54
    fig.add_shape(type="line", xref="paper", yref="paper",
                  x0=px(x0), x1=px(x0 + 9), y0=py(yrow + 1.5), y1=py(yrow + 1.5),
                  line=dict(color=col, width=2))
    fig.add_annotation(xref="paper", yref="paper", x=px(x0 + 9), y=py(yrow), text=name,
                       showarrow=False, xanchor="left", yanchor="middle",
                       font=dict(size=11, color="white"))

NB = "\u00a0"
title = "<b>Brussels" + NB * 2 + "(BE)" + NB * 2 + "2m Temp. &amp; Neerslag | Wed, 05Aug2026 00Z</b>"
fig.add_annotation(xref="paper", yref="paper", x=px(435), y=py(12), text=title, showarrow=False,
                   xanchor="center", yanchor="middle", font=dict(size=16, color="white"))
fig.add_annotation(xref="paper", yref="paper", x=px(120), y=py(599), text="GFS Ensemble, 51N, 4.5E",
                   showarrow=False, xanchor="left", yanchor="middle", font=dict(size=16, color="white"))
fig.add_annotation(xref="paper", yref="paper", x=px(650), y=py(599), text="Wetterzentrale.de",
                   showarrow=False, xanchor="left", yanchor="middle", font=dict(size=16, color="white"))
fig.add_annotation(xref="paper", yref="paper", x=px(486), y=py(589), text="Date (UTC)",
                   showarrow=False, xanchor="center", yanchor="middle", font=dict(size=10, color="white"))
fig.add_annotation(xref="paper", yref="paper", x=px(132), y=py(280), text="2m Temp. (°C)", textangle=-90,
                   showarrow=False, xanchor="center", yanchor="middle", font=dict(size=10, color="white"))
fig.add_annotation(xref="paper", yref="paper", x=px(840), y=py(281), text="Neerslag (mm)", textangle=-90,
                   showarrow=False, xanchor="center", yanchor="middle", font=dict(size=10, color="white"))

fig.update_layout(
    width=850,
    height=620,
    margin=dict(l=L, r=850 - R, t=T, b=620 - B),
    paper_bgcolor="black",
    plot_bgcolor="black",
    showlegend=False,
    hovermode=False,
    font=dict(family="DejaVu Sans", color="white", size=11),
    xaxis=dict(
        type="date",
        range=["2026-08-05 00:00", "2026-08-21 00:00"],
        tickvals=x_ticks,
        ticktext=x_ticktext,
        showgrid=True, gridcolor=GRID, griddash="4px,4px", gridwidth=1,
        minor=dict(dtick=86400000, showgrid=True, gridcolor=GRID, griddash="4px,4px"),
        showline=True, linecolor="white", linewidth=1, mirror=True,
        zeroline=False, ticks="", ticklabelstandoff=4,
        tickfont=dict(size=11),
    ),
    yaxis=dict(
        range=[-10, 45], dtick=5,
        showgrid=True, gridcolor=GRID, griddash="4px,4px", gridwidth=1,
        showline=True, linecolor="white", linewidth=1, mirror=True,
        zeroline=False, ticks="", ticklabelstandoff=6,
        tickfont=dict(size=11),
    ),
    yaxis2=dict(
        range=[0, 40], dtick=10, overlaying="y", side="right",
        showgrid=False, zeroline=False,
        showline=True, linecolor="white", linewidth=1,
        ticks="inside", ticklen=6, tickcolor="white",
        minor=dict(dtick=1, ticks="inside", ticklen=6, tickcolor="white"),
        tickfont=dict(size=11),
    ),
)

# the page body has a default 8px margin; drop it so the figure sits at the window corner
fig.write_html("out.html", config={"displayModeBar": False},
               post_script="document.body.style.margin='0';")
